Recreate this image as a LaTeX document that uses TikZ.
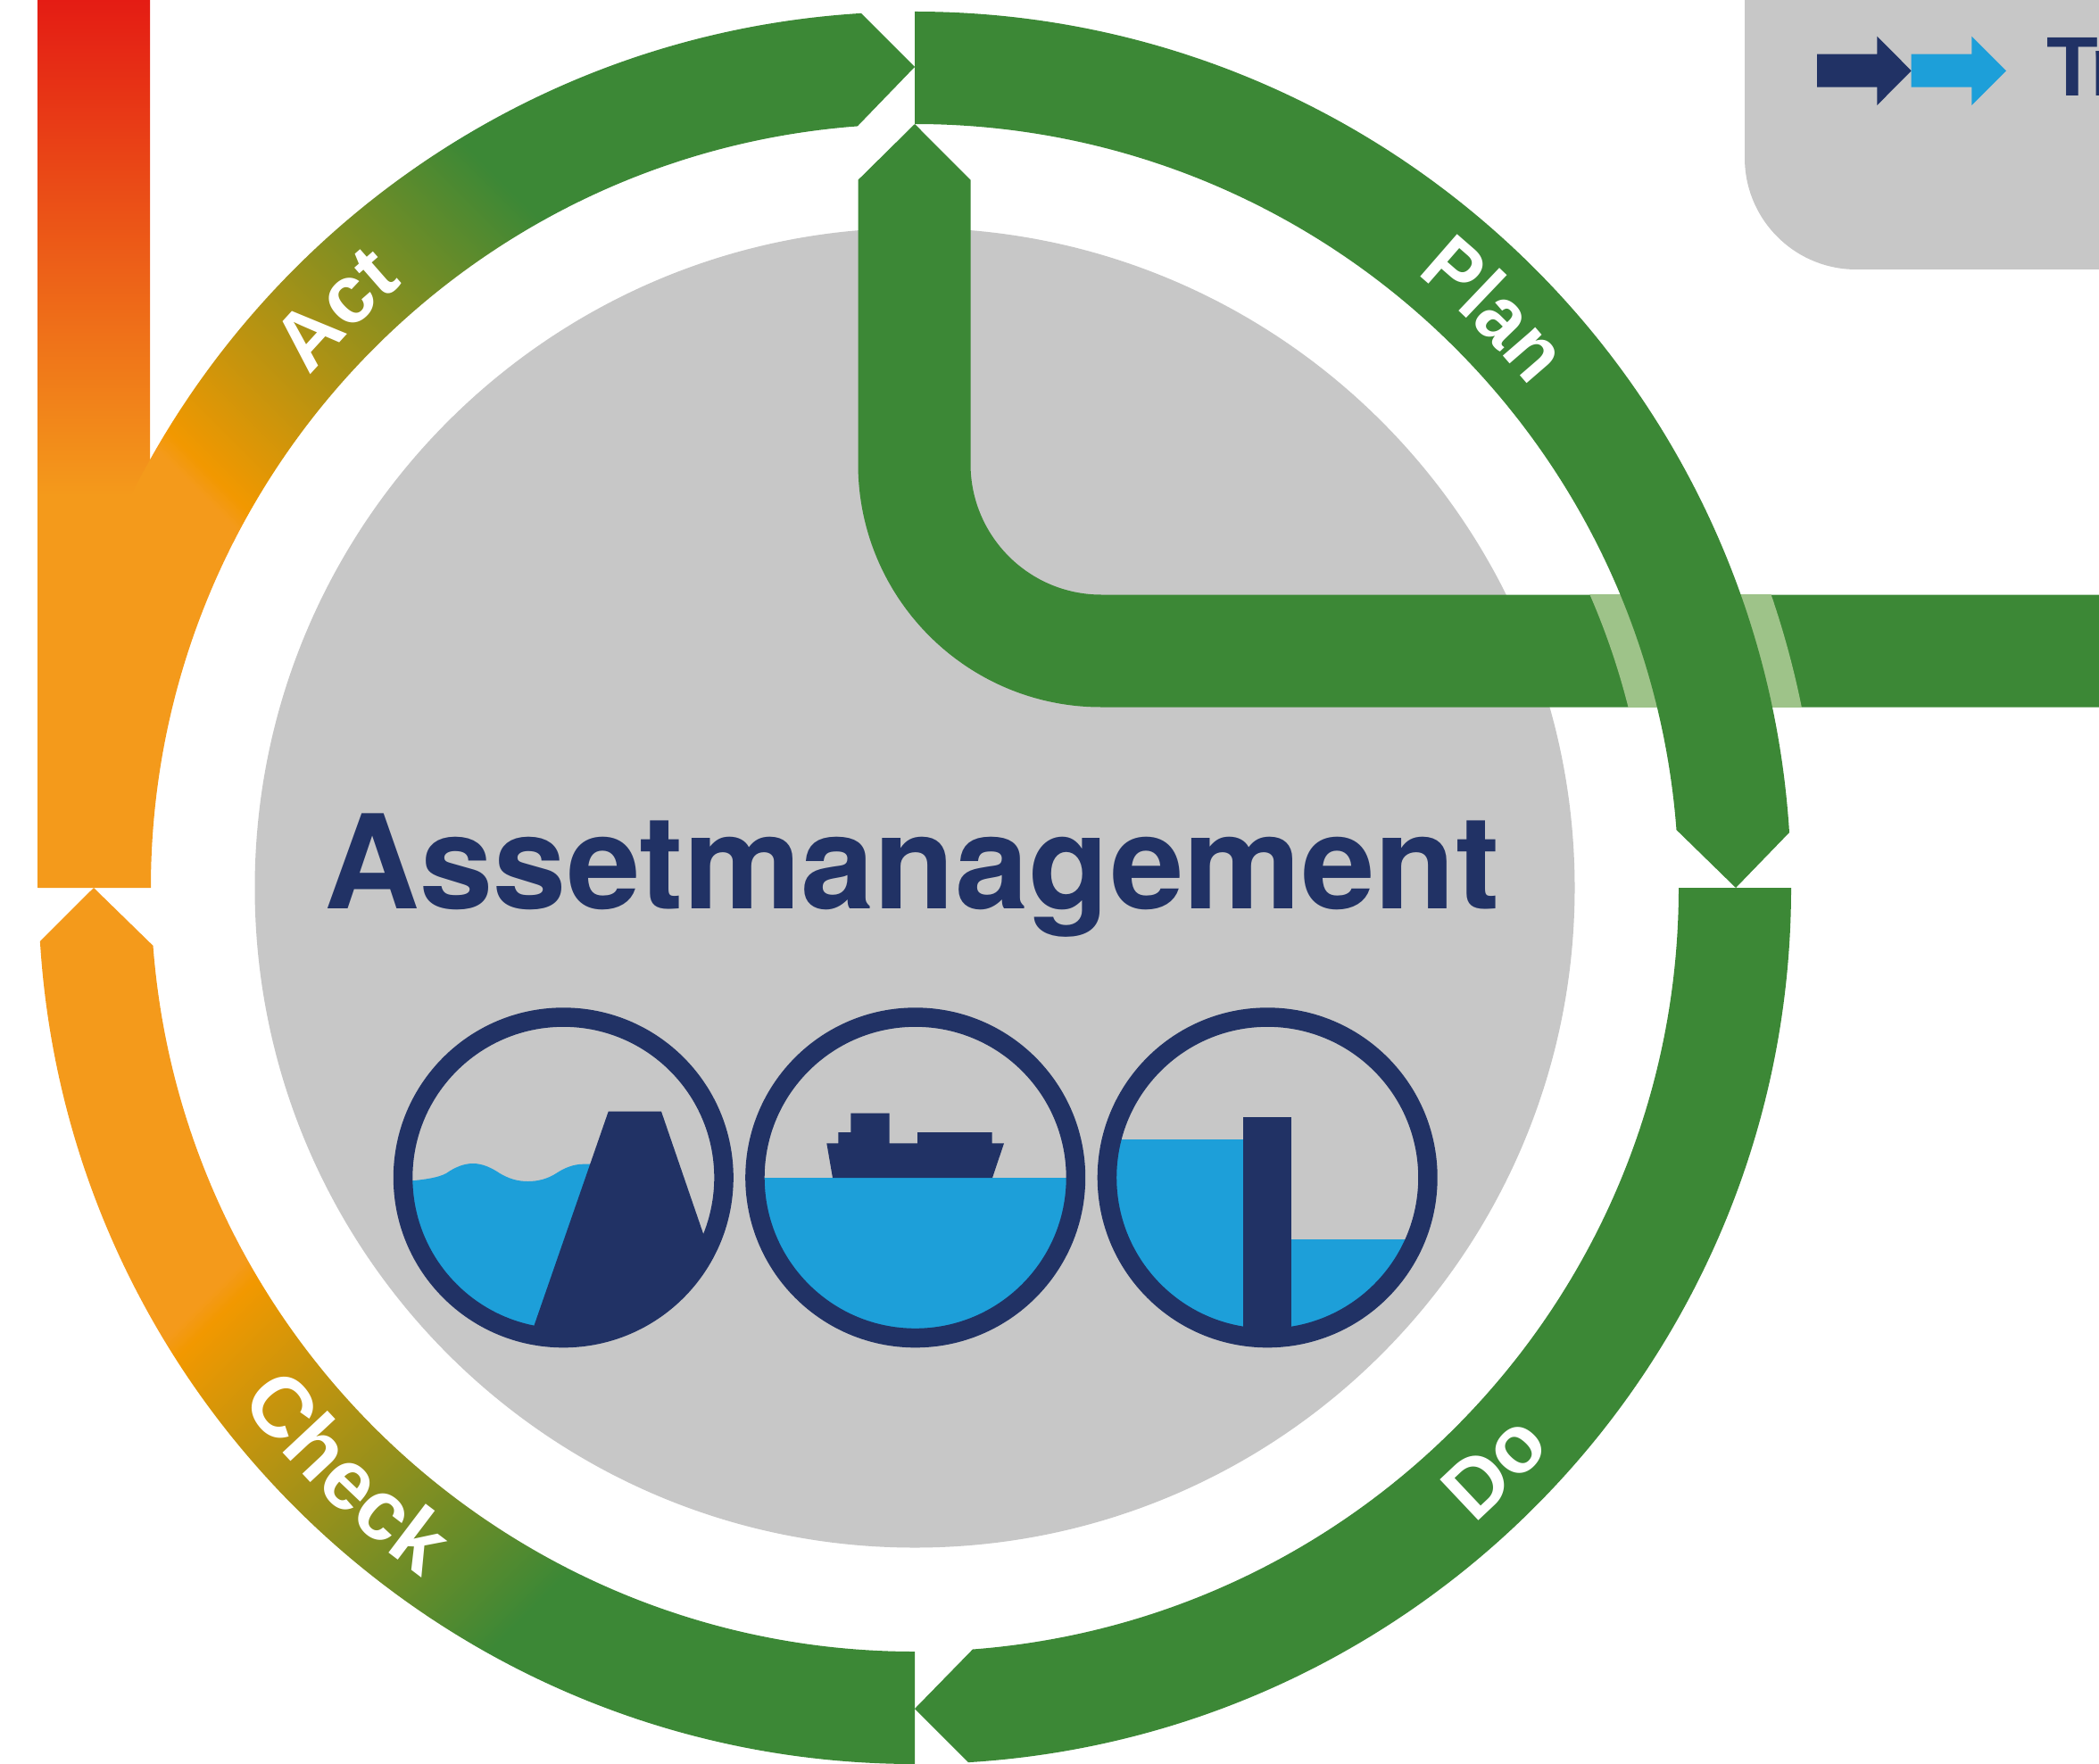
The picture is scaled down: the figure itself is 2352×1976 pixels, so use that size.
\documentclass[tikz,border=0pt]{standalone}
\usepackage{fontspec}
\setmainfont{Liberation Sans}
\newfontfamily\headfont[FakeStretch=1.012]{TeX Gyre Heros}
\newfontfamily\plainlbl{Liberation Sans}
\newfontfamily\narrowlbl[FakeStretch=0.93]{Liberation Sans}
\usetikzlibrary{decorations.text,calc}
\definecolor{grn}{HTML}{3C8836}
\definecolor{lgrn}{HTML}{9EC389}
\definecolor{gry}{HTML}{C7C7C7}
\definecolor{navy}{HTML}{213265}
\definecolor{wblue}{HTML}{1D9FD9}
\definecolor{ora}{HTML}{F49A1B}
\definecolor{orb}{HTML}{F29800}
\definecolor{redt}{HTML}{E41C14}
\pgfdeclarehorizontalshading{actshade}{100bp}{color(0bp)=(ora); color(41.5bp)=(ora); color(42.3bp)=(orb); color(57.7bp)=(grn); color(100bp)=(grn)}
\pgfdeclarehorizontalshading{checkshade}{100bp}{color(0bp)=(ora); color(41.2bp)=(ora); color(42.0bp)=(orb); color(58bp)=(grn); color(100bp)=(grn)}
\newcommand\lblplain{\plainlbl\fontsize{26}{30}\selectfont\bfseries\color{white}}
\newcommand\lblbig{\plainlbl\fontsize{27}{30}\selectfont\bfseries\color{white}}
\newcommand\lblnarrow{\narrowlbl\fontsize{26}{30}\selectfont\bfseries\color{white}}
\newcommand\actshape{(C)+(180:982) arc[start angle=180,end angle=266.5,radius=982] -- (1025,75) -- ($(C)+(265.7:856)$) arc[start angle=265.7,end angle=180,radius=856] -- cycle}
\newcommand\checkshape{(C)+(90:982) arc[start angle=90,end angle=176.5,radius=982] -- (105,995) -- ($(C)+(175.65:856)$) arc[start angle=175.65,end angle=90,radius=856] -- cycle}
\tikzset{
  greenfill/.style={fill=grn},
  ring/.style={draw=navy,line width=0.215cm},
  waterfill/.style={fill=wblue},
  navyfill/.style={fill=navy},
  arclabel/.style 2 args={decorate,decoration={text along path,text align=center,text={|#1|#2}}}
}
\begin{document}
\begin{tikzpicture}[x=0.01cm,y=-0.01cm]
\useasboundingbox (0,0) rectangle (2352,1976);
\fill[white] (0,0) rectangle (2352,1976);
\coordinate (C) at (1025,995);
% legend panel
\fill[gry] (1955,-10) -- (1955,177) arc[start angle=180,end angle=90,radius=125] -- (2352,302) -- (2352,-10) -- cycle;
\fill[navyfill] (2036,60.7) -- (2103.3,60.7) -- (2103.3,40.7) -- (2141.7,79.3) -- (2103.3,118) -- (2103.3,97.7) -- (2036,97.7) -- cycle;
\fill[waterfill] (2141.7,60.7) -- (2209.3,60.7) -- (2209.3,40.7) -- (2248,79.3) -- (2209.3,118) -- (2209.3,97.7) -- (2141.7,97.7) -- cycle;
\node[anchor=base west,inner sep=0,text=navy,font=\fontsize{26.9}{32}\selectfont\bfseries] (legendtext) at (2293,107.7) {T\kern-2.5pt r};
% grey disc
\fill[gry] (C) circle[radius=739.5];
% pipe with light crossing band
\fill[greenfill] (1025,139) -- (1087.5,201.7) -- (1087.5,520) arc[start angle=180,end angle=90,radius=146.5] -- (2352,666.5) -- (2352,792.5) -- (1234,792.5) arc[start angle=90,end angle=180,radius=272.5] -- (961.5,201.7) -- cycle;
\begin{scope}
\clip (1200,666.5) rectangle (2352,792.5);
\fill[lgrn,even odd rule] (C) circle[radius=1014] (C) circle[radius=824.5];
\end{scope}
% red bar
\shade[top color=redt,bottom color=ora] (42,-1) rectangle (168,556);
\fill[ora] (42,555) rectangle (168,995);
% Plan
\fill[greenfill] (C)+(-90:982) arc[start angle=-90,end angle=-3.62,radius=982] -- (1945,995) -- ($(C)+(-4.35:856)$) arc[start angle=-4.35,end angle=-90,radius=856] -- cycle;
% Do
\fill[greenfill] (C)+(0:982) arc[start angle=0,end angle=86.5,radius=982] -- (1025,1915) -- ($(C)+(85.65:856)$) arc[start angle=85.65,end angle=0,radius=856] -- cycle;
% Check
\begin{scope}
\path[clip] \checkshape;
\node[inner sep=0,rotate=-45,scale=8.505] at (421,1638) {\pgfuseshading{checkshade}};
\end{scope}
% Act
\begin{scope}
\path[clip] \actshape;
\node[inner sep=0,rotate=45,scale=8.505] at (403,371) {\pgfuseshading{actshade}};
\end{scope}
% arc labels (math angles, literal radii)
\path[arclabel={\lblplain}{Act}] (10.25cm,-9.95cm)+(155:8.88cm) arc[start angle=155,end angle=115,radius=8.88cm];
\path[arclabel={\lblnarrow}{Plan}] (10.25cm,-9.95cm)+(65:8.88cm) arc[start angle=65,end angle=25,radius=8.88cm];
\path[arclabel={\lblplain}{Do}] (10.25cm,-9.95cm)+(-65:9.48cm) arc[start angle=-65,end angle=-25,radius=9.48cm];
\path[arclabel={\lblbig}{Check}] (10.25cm,-9.95cm)+(199.8:9.49cm) arc[start angle=199.8,end angle=251.8,radius=9.49cm];
% heading
\node[anchor=base,inner sep=0,text=navy,font=\headfont\fontsize{41.6}{50}\selectfont\bfseries] (heading) at (1022,1018) {Assetmanagement};
% icon 1: dike
\begin{scope}
\clip (631.3,1319.8) circle[radius=170];
\fill[waterfill] (450,1324) -- (461.7,1323.3) .. controls (475,1322) and (491,1320) .. (500,1315) .. controls (510,1308) and (520,1304) .. (530,1304) .. controls (541,1304) and (551,1309) .. (560,1315) .. controls (570,1321) and (580,1324) .. (591.7,1324) .. controls (603,1324) and (614,1321) .. (623.3,1315) .. controls (632,1309) and (643,1304.7) .. (653.3,1304.7) -- (670,1304.7) -- (670,1520) -- (450,1520) -- cycle;
\fill[navyfill] (681.7,1245.7) -- (741,1245.7) -- (828.3,1500) -- (590,1510) -- cycle;
\end{scope}
\draw[ring] (631.3,1319.8) circle[radius=179.75];
% icon 2: ship
\begin{scope}
\clip (1025.7,1319.8) circle[radius=170];
\fill[waterfill] (830,1320) rectangle (1220,1520);
\end{scope}
\fill[navyfill] (933,1320) -- (926.3,1281.3) -- (939.3,1281.3) -- (939.3,1269) -- (953.3,1269) -- (953.3,1247.7) -- (996.7,1247.7) -- (996.7,1281.3) -- (1028,1281.3) -- (1028,1269) -- (1111.7,1269) -- (1111.7,1281.3) -- (1125,1281.3) -- (1112,1320) -- cycle;
\draw[ring] (1025.7,1319.8) circle[radius=179.75];
% icon 3: lock wall
\begin{scope}
\clip (1420.2,1319.8) circle[radius=170];
\fill[waterfill] (1230,1277.3) rectangle (1393,1520);
\fill[waterfill] (1447,1388.7) rectangle (1610,1520);
\fill[navyfill] (1393,1252) rectangle (1447,1520);
\end{scope}
\draw[ring] (1420.2,1319.8) circle[radius=179.75];
\end{tikzpicture}
\end{document}
